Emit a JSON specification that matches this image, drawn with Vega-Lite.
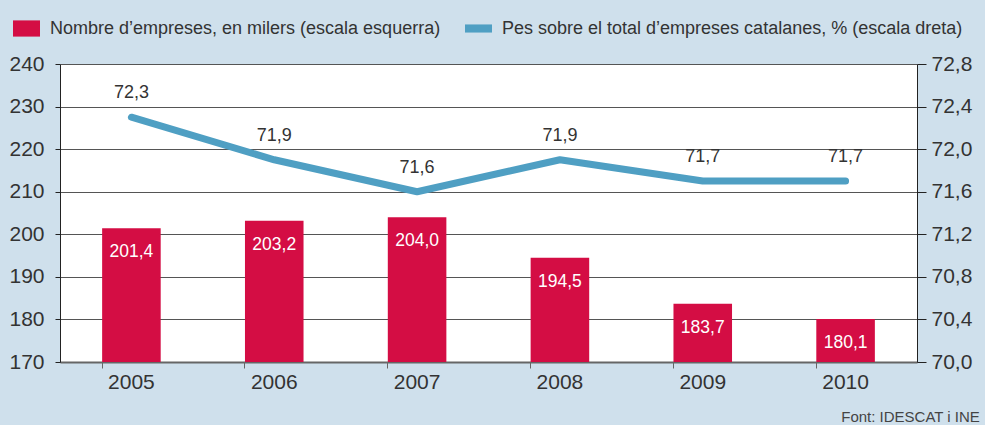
{
  "$schema": "https://vega.github.io/schema/vega-lite/v6.json",
  "width": 985,
  "height": 425,
  "autosize": {"type": "fit", "contains": "padding"},
  "padding": {"left": 8, "right": 5, "top": 53, "bottom": 0},
  "background": "#cfe0ec",
  "config": {
    "locale": {"number": {"decimal": ",", "thousands": ".", "grouping": [3], "currency": ["", " €"]}},
    "font": "Liberation Sans",
    "view": {"fill": "white", "stroke": null},
    "axis": {"labelFont": "Liberation Sans", "labelFontSize": 21, "labelColor": "#333", "title": null},
    "legend": {"labelFont": "Liberation Sans", "labelFontSize": 18, "labelColor": "#333", "title": null, "labelLimit": 0, "labelOffset": 10}
  },
  "title": {"text": "Font: IDESCAT i INE", "orient": "bottom", "anchor": "end", "frame": "bounds", "fontSize": 15, "fontWeight": "normal", "color": "#444", "font": "Liberation Sans", "offset": 18, "dx": 8},
  "data": {"values": [
    {"any": "2005", "empreses": 201.4, "pes": 72.3},
    {"any": "2006", "empreses": 203.2, "pes": 71.9},
    {"any": "2007", "empreses": 204.0, "pes": 71.6},
    {"any": "2008", "empreses": 194.5, "pes": 71.9},
    {"any": "2009", "empreses": 183.7, "pes": 71.7},
    {"any": "2010", "empreses": 180.1, "pes": 71.7}
  ]},
  "encoding": {
    "x": {"field": "any", "type": "ordinal", "scale": {"paddingInner": 0.59, "paddingOuter": 0.295},
      "axis": {"labelAngle": 0, "labelPadding": 3, "bandPosition": 0, "tickColor": "#666", "tickSize": 6, "domainColor": "#666", "domainWidth": 2}}
  },
  "layer": [
    {
      "encoding": {
        "y": {"field": "empreses", "type": "quantitative", "scale": {"domain": [170, 240], "zero": false, "nice": false},
          "axis": {"orient": "left", "values": [170, 180, 190, 200, 210, 220, 230, 240], "format": "d", "grid": true, "gridColor": "#555", "gridWidth": 1, "domainColor": "#222", "tickColor": "#222", "tickSize": 5, "labelPadding": 11}}
      },
      "layer": [
        {"mark": {"type": "bar", "color": "#d40d44", "clip": true},
         "encoding": {"color": {"datum": "Nombre d’empreses, en milers (escala esquerra)", "scale": {"range": ["#d40d44"]}, "legend": {"orient": "none", "legendX": -47, "legendY": -49, "symbolType": "M-1,-0.6H1V0.6H-1Z", "symbolSize": 729, "symbolOpacity": 1, "symbolStrokeWidth": 0, "symbolFillColor": "#d40d44"}}}},
        {"mark": {"type": "text", "color": "white", "fontSize": 17.5, "baseline": "top", "dy": 15},
         "encoding": {"text": {"field": "empreses", "type": "quantitative", "format": ".1f"}}}
      ]
    },
    {
      "encoding": {
        "y": {"field": "pes", "type": "quantitative", "scale": {"domain": [70, 72.8], "zero": false, "nice": false},
          "axis": {"orient": "right", "values": [70, 70.4, 70.8, 71.2, 71.6, 72.0, 72.4, 72.8], "format": ".1f", "grid": false, "domainColor": "#222", "tickColor": "#222", "tickSize": 9, "labelPadding": 5}}
      },
      "layer": [
        {"mark": {"type": "line", "strokeWidth": 7, "strokeCap": "round", "strokeJoin": "round"},
         "encoding": {"stroke": {"datum": "Pes sobre el total d’empreses catalanes, % (escala dreta)", "scale": {"range": ["#4f9fc3"]}, "legend": {"orient": "none", "legendX": 405, "legendY": -49, "symbolType": "M-1,-0.3H1V0.3H-1Z", "symbolSize": 729, "symbolStrokeWidth": 0, "symbolFillColor": "#4f9fc3"}}}},
        {"mark": {"type": "text", "color": "#333", "fontSize": 18, "baseline": "bottom", "dy": -15},
         "encoding": {"text": {"field": "pes", "type": "quantitative", "format": ".1f"}}}
      ]
    }
  ],
  "resolve": {"scale": {"y": "independent"}}
}
